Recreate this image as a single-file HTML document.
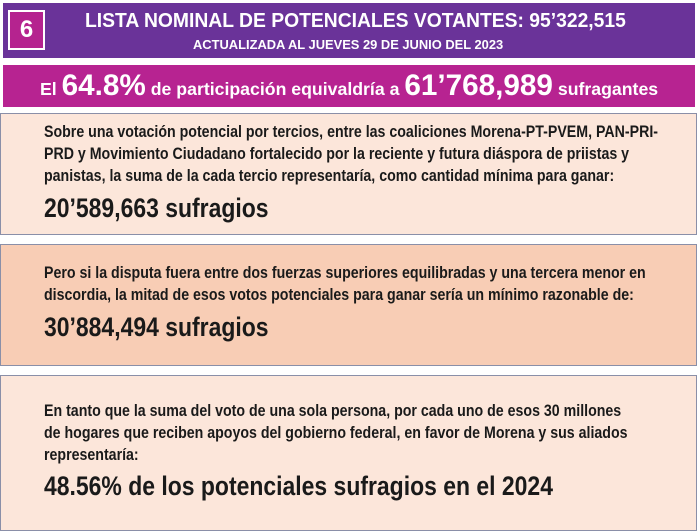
<!DOCTYPE html>
<html><head><meta charset="utf-8"><style>
body{margin:0;width:700px;height:531px;background:#fff;position:relative;overflow:hidden;font-family:"Liberation Sans",sans-serif}
.a{position:absolute;white-space:nowrap;transform-origin:0 0}
.n{font-weight:bold;color:#1a1a1a}
.t{font-size:16.5px;transform:scaleX(0.86)}
.b{font-size:27px;transform:scaleX(0.85)}
.box{position:absolute;left:0;width:697px;border:1px solid #8a8fa8;box-sizing:border-box}
</style></head><body>
<div class="a" style="left:3px;top:3px;width:692px;height:55px;background:#6a3399"></div>
<div class="a" style="left:8px;top:10px;width:33px;height:36px;background:#b5238f;border:2px solid #fff;color:#fff;font-weight:900;font-size:24px;text-align:center;line-height:36px">6</div>
<div class="a" style="left:85px;top:10px;color:#fff;font-weight:bold;font-size:20px;transform:scaleX(0.965)">LISTA NOMINAL DE POTENCIALES VOTANTES: 95’322,515</div>
<div class="a" style="left:193px;top:37px;color:#fff;font-weight:bold;font-size:12.9px">ACTUALIZADA AL JUEVES 29 DE JUNIO DEL 2023</div>
<div class="a" style="left:3px;top:65px;width:692px;height:42px;background:#b72391"></div>
<div class="a" style="left:40px;top:71px;color:#fff;font-weight:bold;font-size:17.7px;line-height:30px">El <span style="font-size:29.7px">64.8%</span> de participación equivaldría a <span style="font-size:29.7px">61’768,989</span> sufragantes</div>

<div class="box" style="top:113px;height:122px;background:#fce6da"></div>
<div class="a n t" style="left:44px;top:123px">Sobre una votación potencial por tercios, entre las coaliciones Morena-PT-PVEM, PAN-PRI-</div>
<div class="a n t" style="left:44px;top:145px">PRD y Movimiento Ciudadano fortalecido por la reciente y futura diáspora de priistas y</div>
<div class="a n t" style="left:44px;top:167px">panistas, la suma de la cada tercio representaría, como cantidad mínima para ganar:</div>
<div class="a n b" style="left:44px;top:193px">20’589,663 sufragios</div>

<div class="box" style="top:244px;height:122px;background:#f8cdb5"></div>
<div class="a n t" style="left:44px;top:264px">Pero si la disputa fuera entre dos fuerzas superiores equilibradas y una tercera menor en</div>
<div class="a n t" style="left:44px;top:286px">discordia, la mitad de esos votos potenciales para ganar sería un mínimo razonable de:</div>
<div class="a n b" style="left:44px;top:312px">30’884,494 sufragios</div>

<div class="box" style="top:375px;height:156px;background:#fce6da"></div>
<div class="a n t" style="left:44px;top:402px">En tanto que la suma del voto de una sola persona, por cada uno de esos 30 millones</div>
<div class="a n t" style="left:44px;top:424px">de hogares que reciben apoyos del gobierno federal, en favor de Morena y sus aliados</div>
<div class="a n t" style="left:44px;top:446px">representaría:</div>
<div class="a n b" style="left:44px;top:471px">48.56% de los potenciales sufragios en el 2024</div>
</body></html>
